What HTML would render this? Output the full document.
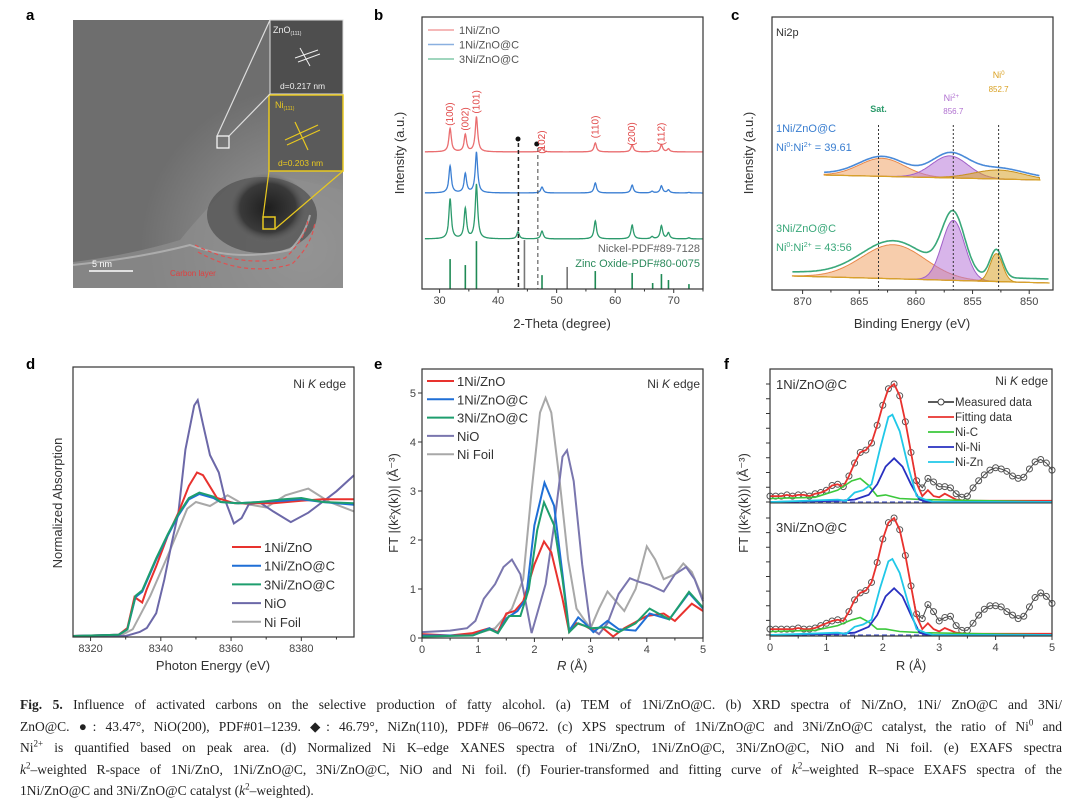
<!DOCTYPE html>
<html><head><meta charset="utf-8"><style>
html,body{margin:0;padding:0;background:#fff;width:1080px;height:806px;overflow:hidden}
svg{position:absolute;left:0;top:0}
svg text{font-family:"Liberation Sans",sans-serif}
#cap{position:absolute;left:20px;top:694px;width:1042px;font-family:"Liberation Serif",serif;font-size:13.5px;color:#222;line-height:21.5px}
#cap div{text-align:justify;text-align-last:justify;white-space:nowrap;overflow:visible}
#cap div.last{text-align-last:left}
sup{font-size:9px;line-height:0}
</style></head><body>
<svg id="fig" width="1080" height="806" viewBox="0 0 1080 806">
<defs>
<radialGradient id="temg" cx="0.85" cy="0.85" r="0.6"><stop offset="0" stop-color="#a0a0a0"/><stop offset="1" stop-color="#6e6e6e"/></radialGradient>
<radialGradient id="blob" cx="0.5" cy="0.5" r="0.5"><stop offset="0" stop-color="#1e1e1e"/><stop offset="0.7" stop-color="#3a3a3a"/><stop offset="1" stop-color="#6a6a6a" stop-opacity="0"/></radialGradient>
</defs>
<text x="26" y="20" font-size="15" font-weight="bold">a</text>
<text x="374" y="20" font-size="15" font-weight="bold">b</text>
<text x="731" y="20" font-size="15" font-weight="bold">c</text>
<text x="26" y="369" font-size="15" font-weight="bold">d</text>
<text x="374" y="369" font-size="15" font-weight="bold">e</text>
<text x="724" y="369" font-size="15" font-weight="bold">f</text>

<g>
<rect x="73" y="20" width="270" height="268" fill="#686868"/>
<rect x="73" y="20" width="270" height="268" fill="url(#temg)"/>
<path d="M73 262 Q130 255 180 240 Q200 215 230 185 Q260 170 300 180 L343 190 L343 288 L73 288 Z" fill="#8e8e8e" opacity="0.7"/>
<ellipse cx="262" cy="215" rx="55" ry="38" fill="#555" opacity="0.8"/>
<ellipse cx="268" cy="208" rx="40" ry="35" fill="url(#blob)"/>
<path d="M73 265 Q140 258 190 245 Q235 262 290 250 Q305 235 310 215" fill="none" stroke="#b5b5b5" stroke-width="2" opacity="0.8"/>
<path d="M195 245 Q240 268 285 258 Q305 240 308 220" fill="none" stroke="#e05050" stroke-width="1.2" stroke-dasharray="4,3"/>
<path d="M198 252 Q245 278 292 264 Q312 245 315 222" fill="none" stroke="#e05050" stroke-width="1.2" stroke-dasharray="4,3"/>
<rect x="270" y="20" width="73" height="74" fill="#4e4e4e" stroke="#ddd" stroke-width="1"/>
<text x="273" y="33" font-size="9" fill="#eee">ZnO<tspan font-size="5" dy="2">(111)</tspan></text>
<path d="M295 58 L318 50 M298 62 L320 54 M300 48 L310 66" stroke="#eee" stroke-width="1"/>
<text x="280" y="89" font-size="8.5" fill="#eee">d=0.217 nm</text>
<rect x="269" y="95" width="74" height="76" fill="#5a5a5a" stroke="#e8c820" stroke-width="1.5"/>
<text x="275" y="108" font-size="9" fill="#e8c820">Ni<tspan font-size="5" dy="2">(111)</tspan></text>
<path d="M285 140 L318 125 M287 145 L320 130 M295 122 L308 150" stroke="#e8c820" stroke-width="1.2"/>
<text x="278" y="166" font-size="8.5" fill="#e8c820">d=0.203 nm</text>
<rect x="217" y="136" width="12" height="12" fill="none" stroke="#fff" stroke-width="1.2"/>
<path d="M217 136 L270 20 M229 136 L270 94" stroke="#ddd" stroke-width="1.2"/>
<rect x="263" y="217" width="12" height="12" fill="none" stroke="#e8c820" stroke-width="1.5"/>
<path d="M263 217 L269 171 M275 229 L343 171" stroke="#e8c820" stroke-width="1.2"/>
<line x1="89" y1="271" x2="133" y2="271" stroke="#fff" stroke-width="1.5"/>
<text x="92" y="267" font-size="9" fill="#fff">5  nm</text>
<text x="170" y="276" font-size="8" fill="#e04040">Carbon layer</text>
</g>

<g id="pb"></g>
<g id="pc"></g>
<g id="pd"></g>
<g id="pe"></g>
<g id="pf"></g>
</svg>

<div id="cap">
<div><b>Fig. 5.</b> Influence of activated carbons on the selective production of fatty alcohol. (a) TEM of 1Ni/ZnO@C. (b) XRD spectra of Ni/ZnO, 1Ni/ ZnO@C and 3Ni/</div>
<div>ZnO@C. ●: 43.47°, NiO(200), PDF#01–1239. ◆: 46.79°, NiZn(110), PDF# 06–0672. (c) XPS spectrum of 1Ni/ZnO@C and 3Ni/ZnO@C catalyst, the ratio of Ni<sup>0</sup> and</div>
<div>Ni<sup>2+</sup> is quantified based on peak area. (d) Normalized Ni K–edge XANES spectra of 1Ni/ZnO, 1Ni/ZnO@C, 3Ni/ZnO@C, NiO and Ni foil. (e) EXAFS spectra</div>
<div><i>k</i><sup>2</sup>–weighted R-space of 1Ni/ZnO, 1Ni/ZnO@C, 3Ni/ZnO@C, NiO and Ni foil. (f) Fourier-transformed and fitting curve of <i>k</i><sup>2</sup>–weighted R–space EXAFS spectra of the</div>
<div class="last">1Ni/ZnO@C and 3Ni/ZnO@C catalyst (<i>k</i><sup>2</sup>–weighted).</div>
</div>

<script>
// ===== Panel b data (XRD) =====
const xrdPeakPos = [31.8, 34.4, 36.3, 43.4, 47.5, 56.6, 62.9, 66.3, 67.9, 69.1, 72.6];
const xrdRed   = [8.6, 6.3, 12.9, 0, 1.5, 3.3, 2.6, 0.3, 2.6, 1.1, 0];
const xrdBlue  = [9.9, 7.0, 15.0, 0, 2.2, 3.7, 2.9, 0.6, 2.6, 1.1, 0.2];
const xrdGreen = [14.7, 11.0, 20.0, 2.6, 2.9, 6.6, 5.1, 0.8, 4.8, 2.2, 0.4];
const xrdOffsets = [50.4, 35.3, 18.4];
const znoStickPos = [31.8, 34.4, 36.3, 47.5, 56.6, 62.9, 66.4, 67.9, 69.1, 72.6];
const znoStickH   = [11, 8.8, 17.6, 5.1, 6.6, 5.9, 2.2, 5.5, 3.3, 1.8];
const niStickPos = [44.5, 51.8];
const niStickH   = [18, 8.1];
const hklLabels = ['(100)','(002)','(101)','(102)','(110)','(200)','(112)'];
const hklPos    = [31.8, 34.4, 36.3, 47.5, 56.6, 62.9, 67.9];
const hklY      = [64.3, 62.5, 68.8, 54, 59.6, 57, 57];
const bTicks = [30, 40, 50, 60, 70];

// ===== Panel c data (XPS) =====
const xpsTopCenters = [863, 857, 852.7];
const xpsTopHeights = [18, 22, 9];
const xpsTopSigmas  = [2.0, 1.6, 2.2];
const xpsBotCenters = [862, 856.7, 852.9];
const xpsBotHeights = [34, 60, 28];
const xpsBotSigmas  = [2.8, 1.0, 0.55];
const xpsTopRange = [868.1, 849.0];
const xpsTopBase = [115, 110];
const xpsBotRange = [870.9, 848.2];
const xpsBotBase = [14, 7];
const cTicks = [870, 865, 860, 855, 850];
const cMarkers = [863.3, 856.7, 852.7];

// ===== Panel d data (XANES) =====
const dE_NiO = [8315,8330,8334,8336,8338.7,8341,8343,8345,8347,8349.5,8350.5,8352,8354,8356.5,8358.5,8360.8,8363,8365,8368,8372,8377,8382,8386,8390,8395];
const dV_NiO = [0,0,0.03,0.06,0.17,0.42,0.68,0.92,1.39,1.72,1.76,1.58,1.35,1.22,1.0,0.84,0.88,0.98,1.0,0.93,0.85,0.92,1.0,1.08,1.2];
const dE_1Ni = [8315,8328,8330.5,8332.5,8334.7,8336,8338.7,8342,8345,8348,8350.3,8352,8356,8361,8366,8372,8380,8386,8395];
const dV_1Ni = [0,0.01,0.06,0.29,0.25,0.35,0.52,0.75,0.92,1.12,1.22,1.2,1.03,0.99,0.99,0.99,1.01,1.02,1.02];
const dE_1NiC = [8315,8328,8330.5,8332.8,8334.7,8338.7,8342,8345,8348,8351,8355,8357,8362,8368,8375,8380,8386,8395];
const dV_1NiC = [0,0.01,0.05,0.29,0.33,0.57,0.75,0.9,1.02,1.06,1.03,1.0,0.99,1.0,1.01,1.02,1.0,0.98];
const dV_3NiC = [0,0.01,0.05,0.3,0.34,0.58,0.76,0.91,1.03,1.07,1.04,1.0,0.99,1.0,1.02,1.03,1.0,0.99];
const dE_Foil = [8315,8329,8332,8337,8342,8347.5,8350,8354,8359,8363,8370,8375.5,8382,8388,8395];
const dV_Foil = [0,0.01,0.05,0.3,0.6,0.95,1.0,0.97,1.05,0.99,0.96,1.05,1.1,1.0,0.93];
const dTicks = [8320, 8340, 8360, 8380];
const dLegend = ['1Ni/ZnO','1Ni/ZnO@C','3Ni/ZnO@C','NiO','Ni Foil'];

// ===== Panel e data (EXAFS) =====
const eR_red = [0,0.5,0.9,1.2,1.35,1.5,1.65,1.8,2.0,2.17,2.3,2.5,2.62,2.75,2.9,3.0,3.2,3.4,3.6,4.0,4.3,4.5,4.8,5];
const eV_red = [0.08,0.05,0.1,0.2,0.12,0.5,0.55,0.75,1.5,1.97,1.75,0.8,0.12,0.3,0.25,0.18,0.22,0.03,0.2,0.45,0.5,0.35,0.7,0.55];
const eR_blue = [0,0.9,1.2,1.35,1.5,1.7,1.85,2.0,2.18,2.35,2.5,2.62,2.78,2.9,3.05,3.3,3.5,3.8,4.05,4.4,4.75,5];
const eV_blue = [0.05,0.05,0.2,0.1,0.4,0.55,0.8,2.3,3.17,2.7,1.3,0.15,0.42,0.3,0.12,0.35,0.18,0.15,0.5,0.38,0.92,0.6];
const eR_green = [0,0.9,1.2,1.35,1.55,1.75,1.9,2.05,2.17,2.35,2.5,2.62,2.78,3.0,3.3,3.5,3.8,4.05,4.4,4.75,5];
const eV_green = [0.03,0.05,0.18,0.1,0.45,0.45,1.0,2.2,2.77,2.3,1.2,0.12,0.3,0.2,0.22,0.12,0.3,0.6,0.38,0.94,0.62];
const eR_nio = [0,0.5,0.8,0.95,1.1,1.3,1.45,1.6,1.75,1.85,1.95,2.05,2.2,2.35,2.5,2.58,2.7,2.85,3.0,3.15,3.3,3.5,3.7,3.85,4.05,4.3,4.5,4.7,4.85,5];
const eV_nio = [0.12,0.15,0.2,0.35,0.8,1.1,1.45,1.6,1.3,0.7,0.1,0.5,1.1,2.3,3.7,3.83,3.2,1.5,0.2,0.08,0.3,0.9,1.22,1.15,1.08,0.95,1.3,1.45,1.2,0.75];
const eR_foil = [0,0.8,1.0,1.3,1.6,1.8,1.95,2.1,2.2,2.3,2.45,2.6,2.75,2.9,3.0,3.15,3.3,3.45,3.6,3.8,4.0,4.15,4.3,4.5,4.65,4.8,5];
const eV_foil = [0.05,0.05,0.1,0.2,0.6,1.2,3.0,4.6,4.9,4.6,3.2,1.6,0.6,0.35,0.2,0.6,0.95,0.75,0.55,1.0,1.87,1.6,1.2,1.3,1.52,1.35,0.8];
const eTicks = [0,1,2,3,4,5];

// ===== Panel f data (EXAFS fitting) =====
const fR = [0,0.1,0.2,0.3,0.4,0.5,0.6,0.7,0.8,0.9,1.0,1.1,1.2,1.3,1.4,1.5,1.6,1.7,1.8,1.9,2.0,2.1,2.2,2.3,2.4,2.5,2.6,2.7,2.8,2.9,3.0,3.1,3.2,3.3,3.4,3.5,3.6,3.7,3.8,3.9,4.0,4.1,4.2,4.3,4.4,4.5,4.6,4.7,4.8,4.9,5.0];
const fMeasTop = [0.05,0.05,0.05,0.06,0.05,0.06,0.06,0.05,0.07,0.08,0.1,0.14,0.15,0.13,0.22,0.33,0.42,0.44,0.5,0.65,0.82,0.96,1.0,0.9,0.68,0.42,0.18,0.12,0.2,0.17,0.13,0.13,0.12,0.07,0.04,0.05,0.12,0.18,0.23,0.27,0.29,0.28,0.26,0.22,0.2,0.21,0.28,0.34,0.36,0.33,0.27];
const fMeasBot = [0.05,0.05,0.05,0.05,0.05,0.06,0.05,0.05,0.06,0.08,0.1,0.12,0.13,0.12,0.2,0.3,0.36,0.38,0.45,0.62,0.82,0.96,1.0,0.9,0.68,0.42,0.18,0.14,0.26,0.2,0.12,0.15,0.16,0.08,0.04,0.04,0.1,0.17,0.22,0.25,0.25,0.24,0.2,0.17,0.14,0.16,0.24,0.32,0.36,0.33,0.27];
const fFitTailR = [2.6,2.7,2.8,2.9,3.0,3.1,3.3,3.5,5.0];
const fFitTailTop = [0.16,0.05,0.1,0.05,0.04,0.07,0.02,0.01,0.01];
const fFitTailBot = [0.16,0.05,0.1,0.05,0.03,0.06,0.02,0.01,0.01];
const fNiC_R = [0,0.8,1.2,1.45,1.6,1.75,1.9,2.05,2.3,2.7,5];
const fNiC_top = [0.03,0.04,0.1,0.18,0.2,0.14,0.05,0.06,0.03,0.02,0];
const fNiC_bot = [0.03,0.04,0.08,0.13,0.15,0.11,0.05,0.05,0.03,0.02,0];
const fNiNi_R = [0,1.2,1.5,1.75,1.9,2.05,2.2,2.35,2.5,2.65,2.8,5];
const fNiNi_top = [0,0.01,0.02,0.06,0.15,0.3,0.37,0.3,0.15,0.02,0,0];
const fNiNi_bot = [0,0.01,0.02,0.07,0.17,0.33,0.4,0.33,0.17,0.02,0,0];
const fNiZn_R = [0,1.2,1.35,1.5,1.65,1.8,1.95,2.1,2.17,2.3,2.45,2.6,2.75,2.9,5];
const fNiZn_top = [0,0.02,0.01,0.08,0.1,0.15,0.45,0.72,0.74,0.6,0.3,0.05,0.02,0,0];
const fNiZn_bot = [0,0.02,0.01,0.07,0.09,0.13,0.4,0.63,0.65,0.53,0.27,0.05,0.02,0,0];
const fLegend = ['Measured data','Fitting data','Ni-C','Ni-Ni','Ni-Zn'];

// ===== helpers =====
const NS = 'http://www.w3.org/2000/svg';
function lin(d0, d1, r0, r1) { return v => r0 + (v - d0) * (r1 - r0) / (d1 - d0); }
function el(parent, tag, attrs, name) {
  const e = document.createElementNS(NS, tag);
  for (const k in attrs) e.setAttribute(k, attrs[k]);
  
  
  parent.appendChild(e);
  return e;
}
function txt(parent, x, y, s, attrs, name) {
  const t = el(parent, 'text', Object.assign({x: x, y: y, 'font-size': 11, fill: '#333'}, attrs || {}), name);
  t.textContent = s;
  return t;
}
function pathFrom(xs, ys, sx, sy) {
  return xs.map((x, i) => (i ? 'L' : 'M') + sx(x).toFixed(1) + ' ' + sy(ys[i]).toFixed(1)).join(' ');
}
function frame(g, x, y, w, h, name) {
  el(g, 'rect', {x: x, y: y, width: w, height: h, fill: 'none', stroke: '#333', 'stroke-width': 1.2}, name);
}
function xTicks(g, ticks, sx, yb, labels, minor) {
  ticks.forEach((t, i) => {
    el(g, 'line', {x1: sx(t), x2: sx(t), y1: yb, y2: yb + 4, stroke: '#333', 'stroke-width': 1}, 'x-tick');
    if (labels) txt(g, sx(t), yb + 15, labels[i], {'text-anchor': 'middle', fill: '#444'}, 'x-tick-label');
  });
  (minor || []).forEach(t => {
    el(g, 'line', {x1: sx(t), x2: sx(t), y1: yb, y2: yb + 2.5, stroke: '#333', 'stroke-width': 1}, 'x-minor-tick');
  });
}
function ylabel(g, x, y, s, name) {
  return txt(g, x, y, s, {'text-anchor': 'middle', 'font-size': 13, fill: '#333', transform: 'rotate(-90 ' + x + ' ' + y + ')'}, name);
}

// ===== Panel b =====
(function () {
  const g = document.getElementById('pb');
  const sx = lin(27, 75, 422, 703), sy = lin(0, 100, 289, 17);
  const series = [xrdRed, xrdBlue, xrdGreen];
  const cols = ['#ea6e70', '#3b7fd3', '#2b9a6c'];
  const names = ['xrd-1ni-zno', 'xrd-1ni-zno-c', 'xrd-3ni-zno-c'];
  series.forEach((hs, si) => {
    const xs = [], ys = [];
    for (let x = 27.5; x <= 75; x += 0.05) {
      let v = xrdOffsets[si];
      xrdPeakPos.forEach((c, k) => { v += hs[k] / (1 + Math.pow((x - c) / 0.25, 2)); });
      xs.push(x); ys.push(v);
    }
    el(g, 'path', {d: pathFrom(xs, ys, sx, sy), fill: 'none', stroke: cols[si], 'stroke-width': 1.3}, names[si]);
  });
  znoStickPos.forEach((p, i) => {
    el(g, 'line', {x1: sx(p), x2: sx(p), y1: sy(0), y2: sy(znoStickH[i]), stroke: '#1f8a55', 'stroke-width': 1.6}, 'zno-reference-stick');
  });
  niStickPos.forEach((p, i) => {
    el(g, 'line', {x1: sx(p), x2: sx(p), y1: sy(0), y2: sy(niStickH[i]), stroke: '#777', 'stroke-width': 1.6}, 'nickel-reference-stick');
  });
  el(g, 'line', {x1: sx(43.47), x2: sx(43.47), y1: 143, y2: 289, stroke: '#222', 'stroke-width': 1.5, 'stroke-dasharray': '4,3'}, 'nio-marker-line');
  el(g, 'line', {x1: sx(46.79), x2: sx(46.79), y1: 148, y2: 289, stroke: '#444', 'stroke-width': 1, 'stroke-dasharray': '4,3'}, 'nizn-marker-line');
  el(g, 'circle', {cx: sx(43.4), cy: 139, r: 2.5, fill: '#111'}, 'nio-marker-dot');
  el(g, 'circle', {cx: sx(46.6), cy: 144, r: 2.5, fill: '#111'}, 'nizn-marker-dot');
  hklLabels.forEach((s, i) => {
    const x = sx(hklPos[i]) + 3, y = sy(hklY[i]);
    txt(g, x, y, s, {'text-anchor': 'middle', 'font-size': 10, fill: '#e04848', transform: 'rotate(-90 ' + x + ' ' + y + ')'}, 'hkl-label');
  });
  txt(g, 700, 252, 'Nickel-PDF#89-7128', {'text-anchor': 'end', 'font-size': 11, fill: '#666'}, 'nickel-pdf-label');
  txt(g, 700, 267, 'Zinc Oxide-PDF#80-0075', {'text-anchor': 'end', 'font-size': 11, fill: '#2b8a5c'}, 'zno-pdf-label');
  const leg = ['1Ni/ZnO', '1Ni/ZnO@C', '3Ni/ZnO@C'];
  const legCols = ['#f2a0a0', '#8ab0e0', '#80c8a8'];
  leg.forEach((s, i) => {
    const y = 30 + i * 14.5;
    el(g, 'line', {x1: 428, x2: 454, y1: y, y2: y, stroke: legCols[i], 'stroke-width': 1.6}, 'legend-line');
    txt(g, 459, y + 4, s, {'font-size': 11, fill: '#555'}, 'legend-entry');
  });
  frame(g, 422, 17, 281, 272, 'xrd-frame');
  xTicks(g, bTicks, sx, 289, bTicks.map(String), [35, 45, 55, 65, 75]);
  ylabel(g, 404, 153, 'Intensity (a.u.)', 'y-axis-title');
  txt(g, 562, 328, '2-Theta (degree)', {'text-anchor': 'middle', 'font-size': 13}, 'x-axis-title');
})();

// ===== Panel c =====
(function () {
  const g = document.getElementById('pc');
  const sx = lin(872.7, 847.9, 772, 1053), sy = lin(0, 273, 290, 17);
  function gauss(E, c, h, s) { return h * Math.exp(-0.5 * Math.pow((E - c) / s, 2)); }
  function block(range, base, cs, hs, ss, envCol, envOff, tag) {
    const Es = [];
    for (let E = range[0]; E >= range[1]; E -= 0.1) Es.push(E);
    const b = E => base[0] + (E - range[0]) * (base[1] - base[0]) / (range[1] - range[0]);
    const fills = ['#f0a468', '#b878d8', '#d9a328'];
    const strokes = ['#e8884a', '#a060c8', '#c8901a'];
    const cnames = ['satellite-component', 'ni2-component', 'ni0-component'];
    cs.forEach((c, k) => {
      const top = Es.map(E => b(E) + gauss(E, c, hs[k], ss[k]));
      const bot = Es.map(E => b(E));
      const d = pathFrom(Es, top, sx, sy) + ' ' + pathFrom(Es.slice().reverse(), bot.slice().reverse(), sx, sy).replace('M', 'L') + ' Z';
      el(g, 'path', {d: d, fill: fills[k], 'fill-opacity': 0.55, stroke: strokes[k], 'stroke-width': 1}, tag + '-' + cnames[k]);
    });
    el(g, 'path', {d: pathFrom([range[0], range[1]], [base[0], base[1]], sx, sy), stroke: '#d9a328', 'stroke-width': 1.2, fill: 'none'}, tag + '-background');
    const env = Es.map(E => b(E) + envOff + cs.reduce((a, c, k) => a + gauss(E, c, hs[k], ss[k]), 0));
    el(g, 'path', {d: pathFrom(Es, env, sx, sy), fill: 'none', stroke: envCol, 'stroke-width': 1.6}, tag + '-envelope');
  }
  block(xpsTopRange, xpsTopBase, xpsTopCenters, xpsTopHeights, xpsTopSigmas, '#4a8ad8', 2, 'xps-1ni-zno-c');
  block(xpsBotRange, xpsBotBase, xpsBotCenters, xpsBotHeights, xpsBotSigmas, '#3aa87a', 4, 'xps-3ni-zno-c');
  cMarkers.forEach(m => {
    el(g, 'line', {x1: sx(m), x2: sx(m), y1: 125, y2: 290, stroke: '#333', 'stroke-width': 1, 'stroke-dasharray': '2,2'}, 'peak-marker-line');
  });
  txt(g, sx(863.3), 112, 'Sat.', {'text-anchor': 'middle', 'font-size': 9, 'font-weight': 'bold', fill: '#2a9a6a'}, 'sat-label');
  const n2 = txt(g, sx(856.7) - 2, 101, 'Ni', {'text-anchor': 'middle', 'font-size': 9, fill: '#b070d0'}, 'ni2-label');
  el(n2, 'tspan', {'font-size': 6, dy: -3}, 'ni2-sup').textContent = '2+';
  txt(g, sx(856.7), 114, '856.7', {'text-anchor': 'middle', 'font-size': 8, fill: '#b070d0'}, 'ni2-energy');
  const n0 = txt(g, sx(852.7), 78, 'Ni', {'text-anchor': 'middle', 'font-size': 9, fill: '#d9a020'}, 'ni0-label');
  el(n0, 'tspan', {'font-size': 6, dy: -3}, 'ni0-sup').textContent = '0';
  txt(g, sx(852.7), 92, '852.7', {'text-anchor': 'middle', 'font-size': 8, fill: '#d9a020'}, 'ni0-energy');
  txt(g, 776, 132, '1Ni/ZnO@C', {'font-size': 11, fill: '#3a7ed0'}, 'sample-label-1ni');
  const r1 = txt(g, 776, 151, 'Ni', {'font-size': 11, fill: '#3a7ed0'}, 'ratio-label-1ni');
  el(r1, 'tspan', {'font-size': 7, dy: -4}, 'sup').textContent = '0';
  el(r1, 'tspan', {dy: 4}, 'txt').textContent = ':Ni';
  el(r1, 'tspan', {'font-size': 7, dy: -4}, 'sup').textContent = '2+';
  el(r1, 'tspan', {dy: 4}, 'txt').textContent = ' = 39.61';
  txt(g, 776, 232, '3Ni/ZnO@C', {'font-size': 11, fill: '#3aa87a'}, 'sample-label-3ni');
  const r3 = txt(g, 776, 251, 'Ni', {'font-size': 11, fill: '#3aa87a'}, 'ratio-label-3ni');
  el(r3, 'tspan', {'font-size': 7, dy: -4}, 'sup').textContent = '0';
  el(r3, 'tspan', {dy: 4}, 'txt').textContent = ':Ni';
  el(r3, 'tspan', {'font-size': 7, dy: -4}, 'sup').textContent = '2+';
  el(r3, 'tspan', {dy: 4}, 'txt').textContent = ' = 43:56';
  txt(g, 776, 36, 'Ni2p', {'font-size': 11}, 'ni2p-label');
  frame(g, 772, 17, 281, 273, 'xps-frame');
  xTicks(g, cTicks, sx, 290, cTicks.map(String), [867.5, 862.5, 857.5, 852.5]);
  ylabel(g, 753, 153, 'Intensity (a.u.)', 'y-axis-title');
  txt(g, 912, 328, 'Binding Energy (eV)', {'text-anchor': 'middle', 'font-size': 13}, 'x-axis-title');
})();

// ===== Panel d =====
(function () {
  const g = document.getElementById('pd');
  const sx = lin(8315, 8395, 73, 354), sy = lin(0, 2.0, 636, 368);
  el(g, 'path', {d: pathFrom(dE_Foil, dV_Foil, sx, sy), fill: 'none', stroke: '#a8a8a8', 'stroke-width': 2}, 'xanes-ni-foil');
  el(g, 'path', {d: pathFrom(dE_NiO, dV_NiO, sx, sy), fill: 'none', stroke: '#6c68a8', 'stroke-width': 2}, 'xanes-nio');
  el(g, 'path', {d: pathFrom(dE_1Ni, dV_1Ni, sx, sy), fill: 'none', stroke: '#e8322e', 'stroke-width': 2}, 'xanes-1ni-zno');
  el(g, 'path', {d: pathFrom(dE_1NiC, dV_1NiC, sx, sy), fill: 'none', stroke: '#1f6fd6', 'stroke-width': 2}, 'xanes-1ni-zno-c');
  el(g, 'path', {d: pathFrom(dE_1NiC, dV_3NiC, sx, sy), fill: 'none', stroke: '#1e9e6e', 'stroke-width': 2}, 'xanes-3ni-zno-c');
  const cols = ['#e8322e', '#1f6fd6', '#1e9e6e', '#6c68a8', '#a8a8a8'];
  dLegend.forEach((s, i) => {
    const y = 547 + i * 18.7;
    el(g, 'line', {x1: 232, x2: 261, y1: y, y2: y, stroke: cols[i], 'stroke-width': 2}, 'legend-line');
    txt(g, 264, y + 5, s, {'font-size': 13}, 'legend-entry');
  });
  const t = txt(g, 346, 388, 'Ni ', {'text-anchor': 'end', 'font-size': 12}, 'edge-label');
  el(t, 'tspan', {'font-style': 'italic'}, 'k').textContent = 'K';
  el(t, 'tspan', {}, 'edge').textContent = ' edge';
  frame(g, 73, 367, 281, 270, 'xanes-frame');
  xTicks(g, dTicks, sx, 637, dTicks.map(String), [8330, 8350, 8370, 8390]);
  ylabel(g, 62, 503, 'Normalized Absorption', 'y-axis-title');
  txt(g, 213, 670, 'Photon Energy (eV)', {'text-anchor': 'middle', 'font-size': 13}, 'x-axis-title');
})();

// ===== Panel e =====
(function () {
  const g = document.getElementById('pe');
  const sx = lin(0, 5, 422, 703), sy = lin(0, 5, 638, 393);
  el(g, 'path', {d: pathFrom(eR_foil, eV_foil, sx, sy), fill: 'none', stroke: '#a8a8a8', 'stroke-width': 2}, 'exafs-ni-foil');
  el(g, 'path', {d: pathFrom(eR_nio, eV_nio, sx, sy), fill: 'none', stroke: '#7a76ae', 'stroke-width': 2}, 'exafs-nio');
  el(g, 'path', {d: pathFrom(eR_red, eV_red, sx, sy), fill: 'none', stroke: '#e8322e', 'stroke-width': 2}, 'exafs-1ni-zno');
  el(g, 'path', {d: pathFrom(eR_blue, eV_blue, sx, sy), fill: 'none', stroke: '#1f6fd6', 'stroke-width': 2}, 'exafs-1ni-zno-c');
  el(g, 'path', {d: pathFrom(eR_green, eV_green, sx, sy), fill: 'none', stroke: '#1e9e6e', 'stroke-width': 2}, 'exafs-3ni-zno-c');
  const cols = ['#e8322e', '#1f6fd6', '#1e9e6e', '#7a76ae', '#a8a8a8'];
  dLegend.forEach((s, i) => {
    const y = 381 + i * 18.3;
    el(g, 'line', {x1: 427, x2: 454, y1: y, y2: y, stroke: cols[i], 'stroke-width': 2}, 'legend-line');
    txt(g, 457, y + 5, s, {'font-size': 13}, 'legend-entry');
  });
  const t = txt(g, 700, 388, 'Ni ', {'text-anchor': 'end', 'font-size': 12}, 'edge-label');
  el(t, 'tspan', {'font-style': 'italic'}, 'k').textContent = 'K';
  el(t, 'tspan', {}, 'edge').textContent = ' edge';
  frame(g, 422, 369, 281, 269, 'exafs-frame');
  xTicks(g, eTicks, sx, 638, eTicks.map(String), [0.5, 1.5, 2.5, 3.5, 4.5]);
  eTicks.forEach(t2 => {
    el(g, 'line', {x1: 422, x2: 418, y1: sy(t2), y2: sy(t2), stroke: '#333'}, 'y-tick');
    txt(g, 416, sy(t2) + 4, String(t2), {'text-anchor': 'end', fill: '#444'}, 'y-tick-label');
  });
  ylabel(g, 398, 503, 'FT |(k²χ(k))| (Å⁻³)', 'y-axis-title');
  const xl = txt(g, 557, 670, '', {'font-size': 13}, 'x-axis-title');
  el(xl, 'tspan', {'font-style': 'italic'}, 'r').textContent = 'R';
  el(xl, 'tspan', {}, 'unit').textContent = ' (Å)';
})();

// ===== Panel f =====
(function () {
  const g = document.getElementById('pf');
  const sx = lin(0, 5, 770, 1052);
  const subs = [
    {sy: lin(0, 1, 502, 384), meas: fMeasTop, tail: fFitTailTop, nic: fNiC_top, nini: fNiNi_top, nizn: fNiZn_top, label: '1Ni/ZnO@C', ly: 384, tag: 'top'},
    {sy: lin(0, 1, 635, 518), meas: fMeasBot, tail: fFitTailBot, nic: fNiC_bot, nini: fNiNi_bot, nizn: fNiZn_bot, label: '3Ni/ZnO@C', ly: 527, tag: 'bottom'}
  ];
  subs.forEach(s => {
    el(g, 'line', {x1: 770, x2: 1052, y1: s.sy(0), y2: s.sy(0), stroke: '#5060d0', 'stroke-width': 1.2, 'stroke-dasharray': '5,3'}, 'fit-baseline');
    el(g, 'path', {d: pathFrom(fR, s.meas, sx, s.sy), fill: 'none', stroke: '#444', 'stroke-width': 1}, 'measured-line-' + s.tag);
    fR.forEach((r, i) => {
      el(g, 'circle', {cx: sx(r), cy: s.sy(s.meas[i]), r: 3, fill: 'none', stroke: '#555', 'stroke-width': 1}, 'measured-point');
    });
    const cut = fR.indexOf(2.6);
    const fitR = fR.slice(0, cut).concat(fFitTailR);
    const fitV = s.meas.slice(0, cut).concat(s.tail);
    el(g, 'path', {d: pathFrom(fitR, fitV, sx, s.sy), fill: 'none', stroke: '#e8322e', 'stroke-width': 1.8}, 'fitting-line-' + s.tag);
    el(g, 'path', {d: pathFrom(fNiC_R, s.nic, sx, s.sy), fill: 'none', stroke: '#3cc83c', 'stroke-width': 1.6}, 'ni-c-line-' + s.tag);
    el(g, 'path', {d: pathFrom(fNiNi_R, s.nini, sx, s.sy), fill: 'none', stroke: '#2830c0', 'stroke-width': 1.8}, 'ni-ni-line-' + s.tag);
    el(g, 'path', {d: pathFrom(fNiZn_R, s.nizn, sx, s.sy), fill: 'none', stroke: '#20c8e8', 'stroke-width': 1.8}, 'ni-zn-line-' + s.tag);
    txt(g, 776, s.ly + 5, s.label, {'font-size': 13}, 'sample-label-' + s.tag);
    for (let v = 0; v <= 1.0001; v += 0.125) {
      el(g, 'line', {x1: 770, x2: 766, y1: s.sy(v), y2: s.sy(v), stroke: '#333'}, 'y-tick');
    }
  });
  const cols = ['#444', '#e8322e', '#3cc83c', '#2830c0', '#20c8e8'];
  fLegend.forEach((s, i) => {
    const y = 402 + i * 15;
    el(g, 'line', {x1: 928, x2: 954, y1: y, y2: y, stroke: cols[i], 'stroke-width': 1.8}, 'legend-line');
    if (i === 0) el(g, 'circle', {cx: 941, cy: y, r: 3, fill: '#fff', stroke: '#444'}, 'legend-marker');
    txt(g, 955, y + 4, s, {'font-size': 11.5}, 'legend-entry');
  });
  const t = txt(g, 1048, 385, 'Ni ', {'text-anchor': 'end', 'font-size': 12}, 'edge-label');
  el(t, 'tspan', {'font-style': 'italic'}, 'k').textContent = 'K';
  el(t, 'tspan', {}, 'edge').textContent = ' edge';
  frame(g, 770, 369, 282, 267, 'fit-frame');
  el(g, 'line', {x1: 770, x2: 1052, y1: 503, y2: 503, stroke: '#333', 'stroke-width': 1}, 'subplot-divider');
  xTicks(g, eTicks, sx, 636, eTicks.map(String), [0.5, 1.5, 2.5, 3.5, 4.5]);
  ylabel(g, 748, 503, 'FT |(k²χ(k))| (Å⁻³)', 'y-axis-title');
  txt(g, 911, 670, 'R (Å)', {'text-anchor': 'middle', 'font-size': 13}, 'x-axis-title');
})();
</script>
</body></html>
